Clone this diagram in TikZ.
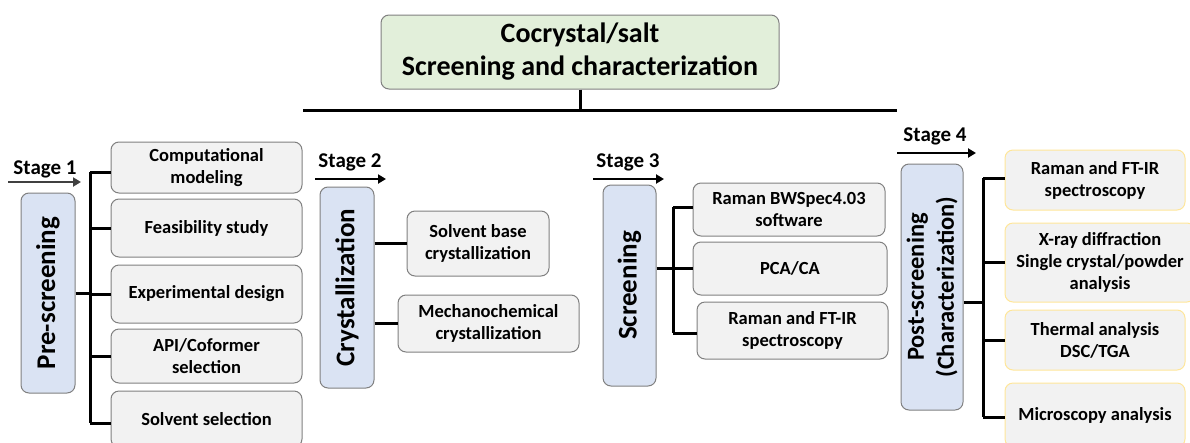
\documentclass[tikz,border=0pt]{standalone}
\usepackage{fontspec}
\setmainfont{Carlito}
\usetikzlibrary{arrows.meta}
\definecolor{titlefill}{HTML}{E2EFDA}
\definecolor{stagefill}{HTML}{DAE3F3}
\definecolor{itemfill}{HTML}{F2F2F2}
\definecolor{boxline}{HTML}{808080}
\definecolor{goldline}{HTML}{FFE699}
\tikzset{
  every node/.style={font=\bfseries},
  titlebox/.style={draw=boxline, fill=titlefill, rounded corners=8pt, line width=1pt,
    inner sep=0pt, align=center, font=\fontsize{28}{33}\selectfont\bfseries},
  phasebox/.style={draw=boxline, fill=stagefill, rounded corners=8pt, line width=1pt,
    inner sep=0pt, align=center},
  phasetext/.style={rotate=90, align=center, font=\fontsize{27}{30}\selectfont\bfseries},
  itembox/.style={draw=boxline, fill=itemfill, rounded corners=8pt, line width=1pt,
    inner sep=0pt, align=center, font=\fontsize{18.5}{22}\selectfont\bfseries},
  golditem/.style={itembox, draw=goldline},
  stagelabel/.style={font=\fontsize{21}{24}\selectfont\bfseries, inner sep=0pt},
  stagearrow/.style={line width=2.4pt, -{Triangle[length=8pt,width=9pt]}},
  link/.style={line width=3pt},
}
\begin{document}
\begin{tikzpicture}[x=1pt,y=-1pt]
\useasboundingbox (0,0) rectangle (1190,442);
\clip (0,0) rectangle (1190,442);

% title and top bar
\node[titlebox, minimum width=398pt, minimum height=74pt] (title) at (580,52)
  {Cocrystal/salt\\Screening and characterization};
\coordinate (barL) at (303,110);
\coordinate (barR) at (897,110);
\draw[link] (barL) -- (barR);
\draw[link] (title.south) -- (title.south |- barL);

% ---------- Stage 1 ----------
\node[stagelabel] (s1) at (45,169) {Stage 1};
\coordinate (s1a) at (8,182);
\coordinate (s1b) at (81,182);
\draw[stagearrow, draw=black!75, fill=black!75] (s1a) -- (s1b);
\node[phasebox, minimum width=54pt, minimum height=200pt] (pre) at (48,293) {};
\node[phasetext] at (pre.center) {Pre-screening};
\node[itembox, minimum width=191pt, minimum height=51pt] (comp) at (206.5,167.5) {Computational\\modeling};
\node[itembox, minimum width=191pt, minimum height=58pt] (feas) at (206.5,228) {Feasibility study};
\node[itembox, minimum width=191pt, minimum height=58pt] (expd) at (206.5,294) {Experimental design};
\node[itembox, minimum width=191pt, minimum height=54pt] (api) at (206.5,356) {API/Coformer\\selection};
\node[itembox, minimum width=191pt, minimum height=56pt] (solv) at (206.5,419) {Solvent selection};
\coordinate (t1top) at (90,172);
\coordinate (t1bot) at (90,423);
\draw[link] (t1top) -- (t1bot);
\draw[link] (pre.east) -- (pre.east -| t1top);
\draw[link] (t1top) -- (t1top -| comp.west);
\foreach \n in {feas,expd,api} \draw[link] (\n.west -| t1top) -- (\n.west);
\draw[link] (t1bot) -- (t1bot -| solv.west);

% ---------- Stage 2 ----------
\node[stagelabel] (s2) at (350,162) {Stage 2};
\coordinate (s2a) at (315,179);
\coordinate (s2b) at (386,179);
\draw[stagearrow] (s2a) -- (s2b);
\node[phasebox, minimum width=54pt, minimum height=201pt] (cry) at (347,287.5) {};
\node[phasetext] at (cry.center) {Crystallization};
\node[itembox, minimum width=142pt, minimum height=65pt] (sbc) at (478,243.5) {Solvent base\\crystallization};
\node[itembox, minimum width=181pt, minimum height=57pt] (mcc) at (488.5,323.5) {Mechanochemical\\crystallization};
\draw[link] (sbc.west -| cry.east) -- (sbc.west);
\draw[link] (mcc.west -| cry.east) -- (mcc.west);

% ---------- Stage 3 ----------
\node[stagelabel] (s3) at (628,162) {Stage 3};
\coordinate (s3a) at (593,179);
\coordinate (s3b) at (664,179);
\draw[stagearrow] (s3a) -- (s3b);
\node[phasebox, minimum width=53pt, minimum height=201pt] (scr) at (629.5,285.5) {};
\node[phasetext] at (scr.center) {Screening};
\node[itembox, minimum width=192pt, minimum height=53pt] (bws) at (789,209.5) {Raman BWSpec4.03\\software};
\node[itembox, minimum width=194pt, minimum height=53pt] (pca) at (790,268.5) {PCA/CA};
\node[itembox, minimum width=191pt, minimum height=57pt] (rft) at (792.5,330.5) {Raman and FT-IR\\spectroscopy};
\coordinate (t3top) at (673,207);
\coordinate (t3bot) at (673,333);
\draw[link] (t3top) -- (t3bot);
\draw[link] (scr.east |- pca.west) -- (pca.west);
\draw[link] (t3top) -- (t3top -| bws.west);
\draw[link] (t3bot) -- (t3bot -| rft.west);

% ---------- Stage 4 ----------
\node[stagelabel] (s4) at (935,136) {Stage 4};
\coordinate (s4a) at (897,153);
\coordinate (s4b) at (976,153);
\draw[stagearrow] (s4a) -- (s4b);
\node[phasebox, minimum width=62pt, minimum height=246pt] (post) at (932,287) {};
\node[phasetext, font=\fontsize{24.5}{30}\selectfont\bfseries] at (post.center) {Post-screening\\(Characterization)};
\node[golditem, minimum width=180pt, minimum height=60pt] (rft4) at (1095,180) {Raman and FT-IR\\spectroscopy};
\node[golditem, minimum width=190pt, minimum height=79pt] (xrd) at (1100,262.5) {X-ray diffraction\\Single crystal/powder\\analysis};
\node[golditem, minimum width=180pt, minimum height=60pt] (tha) at (1095,340) {Thermal analysis\\DSC/TGA};
\node[golditem, minimum width=180pt, minimum height=64pt] (mic) at (1095,415) {Microscopy analysis};
\coordinate (t4top) at (983,178);
\coordinate (t4bot) at (983,417);
\draw[link] (t4top) -- (t4bot);
\draw[link] (post.east |- 0,302) -- (983,302);
\draw[link] (t4top) -- (t4top -| rft4.west);
\draw[link] (xrd.west -| t4top) -- (xrd.west);
\draw[link] (tha.west -| t4top) -- (tha.west);
\draw[link] (t4bot) -- (t4bot -| mic.west);
\end{tikzpicture}
\end{document}
